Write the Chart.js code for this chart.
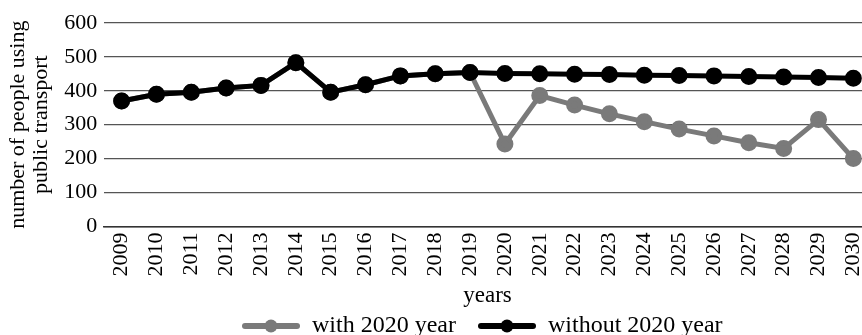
<!DOCTYPE html>
<html>
<head>
<meta charset="utf-8">
<script src="https://cdn.jsdelivr.net/npm/chart.js@4/dist/chart.umd.min.js"></script>
<style>
    html, body { margin: 0; padding: 0; background: #fff; overflow: hidden; }
    #wrap { width: 886px; height: 348px; }
</style>
</head>
<body>
<div id="wrap"><canvas id="chart"></canvas></div>
<script>
const years = ['2009', '2010', '2011', '2012', '2013', '2014', '2015', '2016', '2017', '2018', '2019',
    '2020', '2021', '2022', '2023', '2024', '2025', '2026', '2027', '2028', '2029', '2030'];
const withCovid = [370, 390, 396, 408, 416, 483, 396, 418, 444, 450, 454,
    243, 386, 358, 332, 309, 287, 267, 247, 230, 315, 200];
const withoutCovid = [370, 390, 396, 408, 416, 483, 396, 418, 444, 450, 454,
    451, 450, 449, 448, 446, 445, 444, 442, 441, 439, 437];
const yTicks = [0, 100, 200, 300, 400, 500, 600];

const serif = 'Liberation Serif';
const grey = '#7a7a7a';

// legend icon: a short thick line with a dot, with some blank room on its left
const legendIcon = (color) => {
    let c = document.createElement('canvas');
    c.width = 76;
    c.height = 14;
    let g = c.getContext('2d');
    g.strokeStyle = color;
    g.lineWidth = 6;
    g.lineCap = 'round';
    g.beginPath();
    g.moveTo(21, 7);
    g.lineTo(73, 7);
    g.stroke();
    g.fillStyle = color;
    g.beginPath();
    g.arc(47, 7, 6.5, 0, Math.PI * 2);
    g.fill();
    return c;
}

// put the legend under the middle of the plot rather than the canvas
const legendShift = {
    id: 'legendShift',
    afterLayout(chart) {
        chart.legend.left = 220;
    }
}

let ctx = document.getElementById('chart').getContext('2d');
new Chart(ctx, {
    type: 'line',
    data: {
        labels: years,
        datasets: [{
            label: 'with 2020 year',
            data: withCovid,
            borderColor: grey,
            backgroundColor: grey,
            borderWidth: 5,
            pointRadius: 6,
            pointHoverRadius: 6,
            order: 1
        }, {
            label: 'without 2020 year',
            data: withoutCovid,
            borderColor: '#000',
            backgroundColor: '#000',
            borderWidth: 5,
            pointRadius: 6,
            pointHoverRadius: 6,
            order: 0
        }]
    },
    options: {
        responsive: true,
        maintainAspectRatio: false,
        animation: false,
        layout: { padding: { left: 7, top: 23, right: 0, bottom: 0 } },
        scales: {
            x: {
                offset: true,
                grid: { display: false, drawTicks: false },
                border: { color: '#333', width: 1.5 },
                ticks: {
                    color: '#000',
                    font: { family: serif, size: 22 },
                    minRotation: 90,
                    maxRotation: 90,
                    padding: 6,
                    autoSkip: false
                },
                title: {
                    display: true,
                    text: 'years',
                    color: '#000',
                    font: { family: serif, size: 23 },
                    padding: { top: 0, bottom: 0 }
                }
            },
            y: {
                min: 0,
                max: 600,
                afterBuildTicks: (axis) => { axis.ticks = yTicks.map(v => ({ value: v })); },
                grid: { color: '#555', lineWidth: 1.2, drawTicks: false },
                border: { display: false },
                ticks: {
                    color: '#000',
                    font: { family: serif, size: 22 },
                    padding: 7
                },
                title: {
                    display: true,
                    text: ['number of people using', 'public transport'],
                    color: '#000',
                    font: { family: serif, size: 22, lineHeight: 1.05 },
                    padding: { top: 0, bottom: 4 }
                }
            }
        },
        plugins: {
            tooltip: { enabled: false },
            legend: {
                position: 'bottom',
                align: 'start',
                labels: {
                    color: '#000',
                    font: { family: serif, size: 24 },
                    usePointStyle: true,
                    pointStyleWidth: 76,
                    padding: 4,
                    generateLabels: (chart) => chart.data.datasets.map((ds, i) => ({
                        text: ds.label,
                        fontColor: '#000',
                        pointStyle: legendIcon(ds.borderColor),
                        datasetIndex: i,
                        hidden: false,
                        lineWidth: 0
                    }))
                }
            }
        }
    },
    plugins: [legendShift]
});
</script>
</body>
</html>
